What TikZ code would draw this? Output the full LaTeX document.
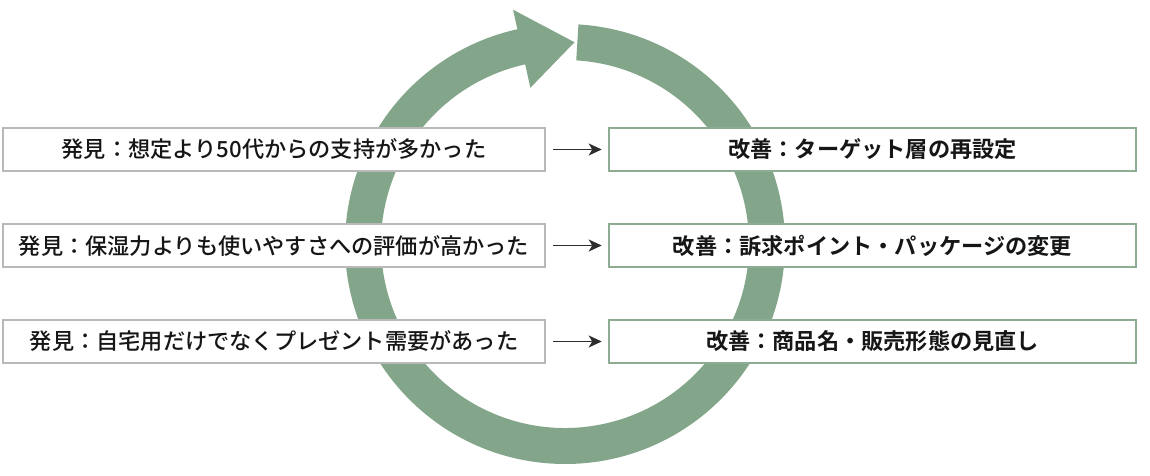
\documentclass[tikz,border=0pt]{standalone}
\usepackage{fontspec}
\setmainfont{Noto Sans CJK JP}[UprightFont=* Medium, BoldFont=* Bold]
\usepackage{tikz}
\usetikzlibrary{calc,arrows.meta,positioning}
\definecolor{ringgreen}{RGB}{131,166,139}
\definecolor{fixline}{RGB}{142,172,148}
\definecolor{findline}{RGB}{185,185,185}
\definecolor{inktext}{RGB}{22,22,22}

\begin{document}
\begin{tikzpicture}[x=1pt, y=1pt, line width=.2mm,
            findbox/.style={
            draw=findline,
            line width=2.4pt,
            fill=white,
            rectangle,
            minimum width=542pt,
            minimum height=43pt,
            text=inktext,
            font=\fontsize{22.2pt}{24pt}\selectfont},
            fixbox/.style={
            draw=fixline,
            line width=2.6pt,
            fill=white,
            rectangle,
            minimum width=527pt,
            minimum height=43pt,
            text=inktext,
            font=\fontsize{22.2pt}{24pt}\selectfont\bfseries}]

           \useasboundingbox (0,0) rectangle (1150,475);

           % the cycle
           \coordinate (ring) at (565,231);
           \fill[ringgreen] ($(ring)+(86.5:220pt)$) arc[start angle=86.5, end angle=-257.5, radius=220pt]
                 -- ($(ring)+(102.5:240pt)$) -- ($(ring)+(87.3:202pt)$) -- ($(ring)+(102.5:160pt)$)
                 -- ($(ring)+(102.5:184pt)$) arc[start angle=-257.5, end angle=86.5, radius=184pt] -- cycle;

           \foreach \i/\find/\fix in {0/{発見：想定より50代からの支持が多かった}/{改善：ターゲット層の再設定},
                                     1/{発見：保湿力よりも使いやすさへの評価が高かった}/{改善：訴求ポイント・パッケージの変更},
                                     2/{発見：自宅用だけでなくプレゼント需要があった}/{改善：商品名・販売形態の見直し}}
           {
                      \node[findbox] (find\i) at (274, 325.5-96*\i) {\find};
                      \node[fixbox] (fix\i) at (872.5, 325.5-96*\i) {\fix};
                      \draw[-{Stealth[length=13pt,width=12pt,inset=3.5pt]}, line width=1.9pt, inktext!90,
                            shorten <=7pt, shorten >=6pt] (find\i) -- (fix\i);
           }
\end{tikzpicture}
\end{document}
